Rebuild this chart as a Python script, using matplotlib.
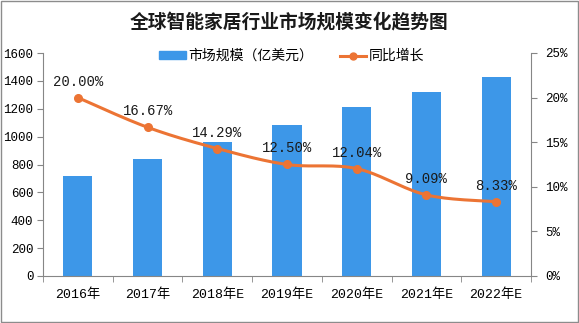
import numpy as np
import matplotlib
matplotlib.use("Agg")
import matplotlib.pyplot as plt
from matplotlib.lines import Line2D
from matplotlib.patches import Patch

plt.rcParams['font.family'] = ['Noto Sans CJK SC', 'DejaVu Sans']
NUM_FONT = ['Liberation Mono', 'Noto Sans CJK SC']

years = ["2016年", "2017年", "2018年E", "2019年E", "2020年E", "2021年E", "2022年E"]
market_size = [720, 840, 960, 1080, 1210, 1320, 1430]
growth = [20.00, 16.67, 14.29, 12.50, 12.04, 9.09, 8.33]

bar_color = "#3d97e8"
line_color = "#ec7434"
axis_color = "#868686"


def smooth_curve(x, y, n=30):
    """Bezier smoothing through the given points (uniform Catmull-Rom tangents)."""
    x = np.asarray(x, float)
    y = np.asarray(y, float)
    px = np.concatenate([[x[0]], x, [x[-1]]])
    py = np.concatenate([[y[0]], y, [y[-1]]])
    xs, ys = [], []
    t = np.linspace(0, 1, n)
    for i in range(1, len(px) - 2):
        p0, p1, p2, p3 = (np.array([px[j], py[j]]) for j in range(i - 1, i + 3))
        c1 = p1 + (p2 - p0) / 6
        c2 = p2 - (p3 - p1) / 6
        pts = ((1 - t) ** 3)[:, None] * p1 + (3 * (1 - t) ** 2 * t)[:, None] * c1 \
            + (3 * (1 - t) * t ** 2)[:, None] * c2 + (t ** 3)[:, None] * p2
        xs.extend(pts[:, 0])
        ys.extend(pts[:, 1])
    return np.array(xs), np.array(ys)


fig = plt.figure(figsize=(5.79, 3.23), dpi=100)
fig.patch.set_facecolor("white")
ax = fig.add_axes([43 / 579, 1 - 276 / 323, (531 - 43) / 579, (276 - 53) / 323])

x = np.arange(len(years))
ax.bar(x, market_size, width=0.42, color=bar_color, zorder=2)
ax.set_xlim(-0.5, len(years) - 0.5)
ax.set_ylim(0, 1600)
ax.set_yticks(np.arange(0, 1601, 200))
ax.set_xticks(x)
ax.set_xticklabels(years, family=NUM_FONT, fontsize=9.5)
ax.set_xticks(np.arange(-0.5, len(years), 1), minor=True)
ax.tick_params(axis="x", which="major", length=0, pad=9)
ax.tick_params(axis="x", which="minor", length=4, color=axis_color, direction="out")
ax.tick_params(axis="y", length=4, color=axis_color, pad=3)
for lab in ax.get_yticklabels():
    lab.set_family(NUM_FONT)
    lab.set_fontsize(9)
for s in ["top", "right"]:
    ax.spines[s].set_visible(False)
ax.spines["left"].set_color(axis_color)
ax.spines["bottom"].set_color(axis_color)

ax2 = ax.twinx()
ax2.set_ylim(0, 25)
ax2.set_yticks(np.arange(0, 26, 5))
ax2.set_yticklabels([f"{v}%" for v in range(0, 26, 5)], family=NUM_FONT, fontsize=9)
ax2.tick_params(axis="y", length=4, color=axis_color, pad=6)
for s in ["top", "left", "bottom"]:
    ax2.spines[s].set_visible(False)
ax2.spines["right"].set_color(axis_color)

sx, sy = smooth_curve(x, growth)
ax2.plot(sx, sy, color=line_color, lw=2.2, zorder=3, solid_capstyle="round")
ax2.plot(x, growth, "o", color=line_color, ms=5.5, zorder=4)
for xi, g in zip(x, growth):
    ax2.annotate(f"{g:.2f}%", (xi, g), xytext=(0, 6.5), textcoords="offset points",
                 ha="center", va="bottom", fontsize=10, family=NUM_FONT, color="#1a1a1a")

fig.text(0.5, 1 - 22.5 / 323, "全球智能家居行业市场规模变化趋势图", ha="center", va="center",
         fontsize=13.5, fontweight="bold", color="#1a1a1a")

handles = [Patch(color=bar_color), Line2D([0], [0], color=line_color, lw=2.2, marker="o", ms=5)]
fig.legend(handles, ["市场规模（亿美元）", "同比增长"], loc="center",
           bbox_to_anchor=(292 / 579, 1 - 56 / 323), ncol=2, frameon=False, fontsize=10,
           handlelength=1.9, handleheight=0.45, columnspacing=1.9, handletextpad=0.2)

# outer frame
fig.add_artist(plt.Rectangle((0.001, 0.002), 0.997, 0.995, transform=fig.transFigure,
                             fill=False, edgecolor="#8c8c8c", lw=1))

fig.savefig("out.png", dpi=100, facecolor="white")
